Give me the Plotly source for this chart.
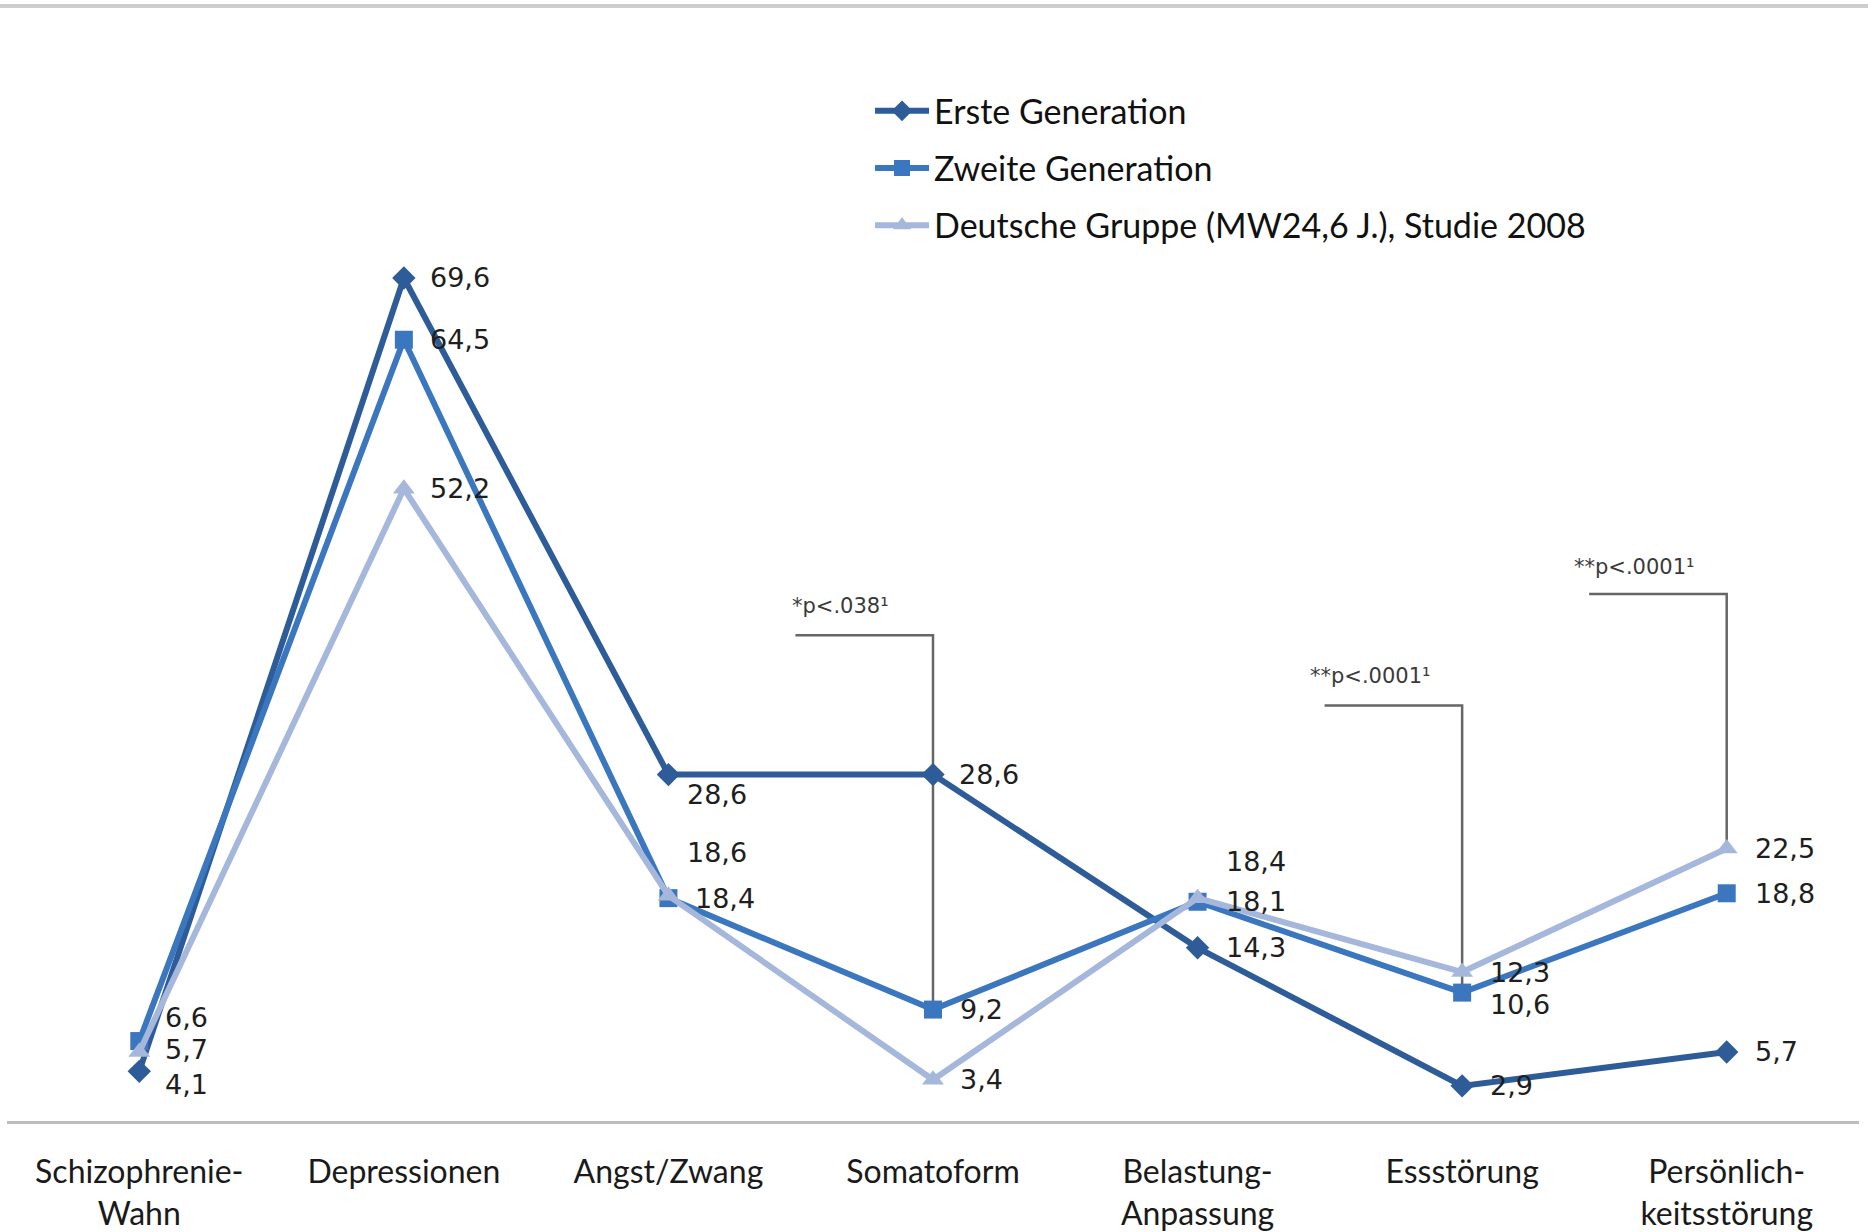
import plotly.graph_objects as go

# Diagnosegruppen (x-Achse)
categories = ["Schizophrenie-Wahn", "Depressionen", "Angst/Zwang", "Somatoform",
              "Belastung-Anpassung", "Essstörung", "Persönlichkeitsstörung"]
tick_labels = ["Schizophrenie-<br>Wahn", "Depressionen", "Angst/Zwang", "Somatoform",
               "Belastung-<br>Anpassung", "Essstörung", "Persönlich-<br>keitsstörung"]

# Anteile in Prozent
erste_generation = [4.1, 69.6, 28.6, 28.6, 14.3, 2.9, 5.7]
zweite_generation = [6.6, 64.5, 18.4, 9.2, 18.1, 10.6, 18.8]
deutsche_gruppe = [5.7, 52.2, 18.6, 3.4, 18.4, 12.3, 22.5]

series_names = ["Erste Generation", "Zweite Generation",
                "Deutsche Gruppe (MW24,6 J.), Studie 2008"]

# Signifikanzhinweise: Kategorie und Text
sig_categories = ["Somatoform", "Essstörung", "Persönlichkeitsstörung"]
sig_texts = ["*p<.038¹", "**p<.0001¹", "**p<.0001¹"]

# --- Darstellung ---
colors = ["#2D5C98", "#3B77BF", "#A5B7DA"]
symbols = ["diamond", "square", "triangle-up"]
marker_sizes = [18, 18, 19]
series_values = [erste_generation, zweite_generation, deutsche_gruppe]

# Verschiebung der Wertebeschriftungen in Pixeln (x, y) je Serie und Kategorie
label_shift = [
    [(24, -13), (24, 0), (17, -20), (24, 0), (26, 0), (26, 0), (26, 0)],
    [(24, 24), (24, 0), (25, 0), (25, 0), (26, 0), (26, -12), (26, 0)],
    [(24, 2), (24, 0), (17, 43), (25, 0), (26, 37), (26, 0), (26, 0)],
]
# Klammer: horizontale Höhe, Endwert-Serie und Textposition
bracket_level = [40.1, 34.3, 43.5]
bracket_target = [zweite_generation, zweite_generation, deutsche_gruppe]
text_level = [42.5, 36.7, 45.7]

fig = go.Figure()
for name, vals, col, sym, ms in zip(series_names, series_values, colors, symbols, marker_sizes):
    fig.add_trace(go.Scatter(
        x=categories, y=vals, name=name, mode="lines+markers",
        line=dict(color=col, width=6),
        marker=dict(symbol=sym, size=ms, color=col),
        legendgroup=name,
    ))

annotations = []
for vals, shifts in zip(series_values, label_shift):
    for i, (v, (dx, dy)) in enumerate(zip(vals, shifts)):
        annotations.append(dict(
            x=i, y=v, xref="x", yref="y", text=f"{v:.1f}".replace(".", ","),
            showarrow=False, xanchor="left", yanchor="middle",
            xshift=dx, yshift=dy,
            font=dict(family="DejaVu Sans", size=27, color="#1e1e1e"),
        ))

shapes = []
for cat, txt, lvl, target, tl in zip(sig_categories, sig_texts, bracket_level,
                                     bracket_target, text_level):
    i = categories.index(cat)
    shapes.append(dict(type="path", xref="x", yref="y",
                       path=f"M {i - 0.52} {lvl} L {i} {lvl} L {i} {target[i]}",
                       line=dict(color="#666666", width=2.5), layer="below"))
    annotations.append(dict(
        x=i - 0.35, y=tl, xref="x", yref="y", text=txt, showarrow=False,
        xanchor="center", yanchor="middle",
        font=dict(family="DejaVu Sans", size=21, color="#3a3a3a"),
    ))

# obere Rahmenlinie
shapes.append(dict(type="line", xref="paper", yref="paper",
                   x0=-0.01, x1=1.01, y0=1.1507, y1=1.1507,
                   line=dict(color="#CDCDCD", width=4)))

fig.update_layout(
    width=1868, height=1232,
    margin=dict(l=7, r=9, t=152, b=111, autoexpand=False),
    paper_bgcolor="white", plot_bgcolor="white",
    showlegend=True,
    legend=dict(x=0.466, y=1.072, xanchor="left", yanchor="top",
                font=dict(family="Lato", size=34, color="#111111"),
                traceorder="grouped", tracegroupgap=10, itemwidth=54,
                bgcolor="rgba(0,0,0,0)"),
    xaxis=dict(type="category", range=[-0.5, 6.5],
               tickvals=categories, ticktext=tick_labels,
               showline=True, linecolor="#BDBDBD", linewidth=3,
               showgrid=False, zeroline=False, ticks="",
               ticklabelstandoff=21, automargin=False,
               tickfont=dict(family="Lato", size=32, color="#1a1a1a")),
    yaxis=dict(range=[0, 80], visible=False, showgrid=False, zeroline=False),
    annotations=annotations,
    shapes=shapes,
)

fig.write_html("out.html")
